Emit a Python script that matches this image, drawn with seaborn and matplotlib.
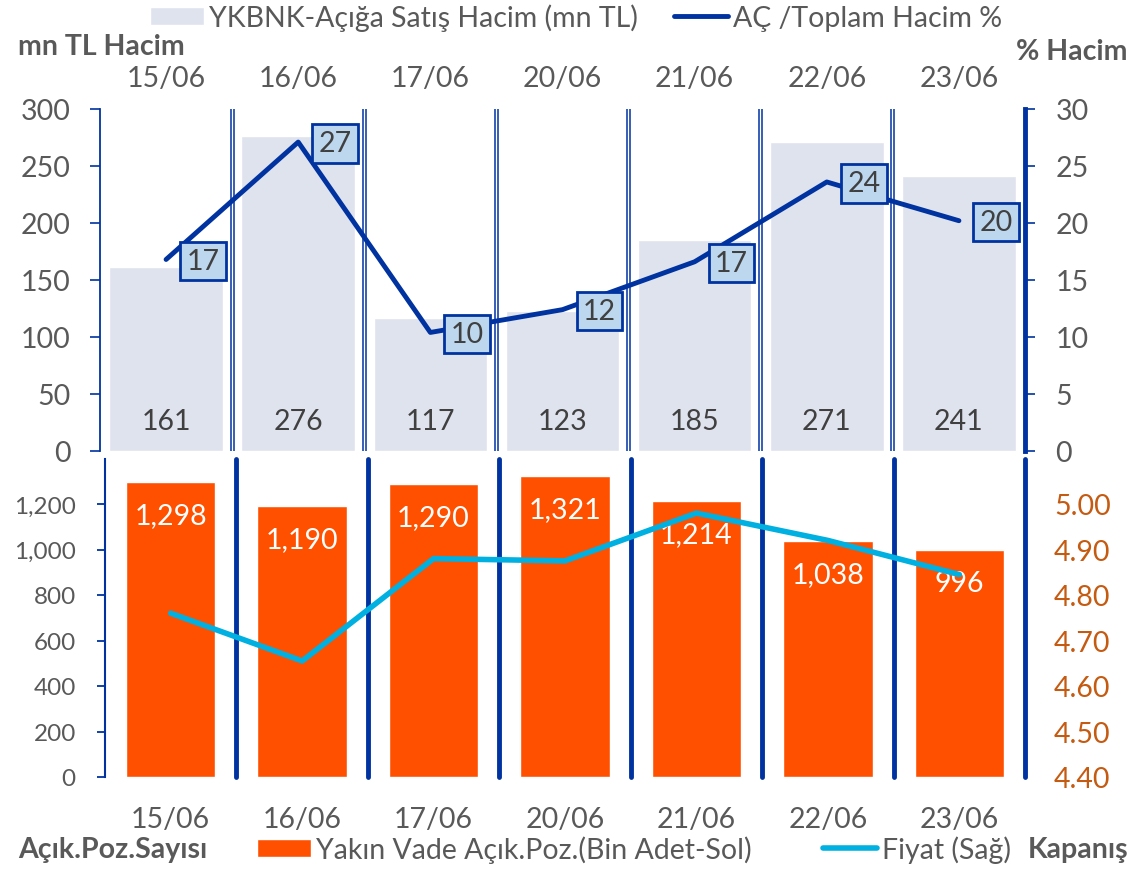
import matplotlib
matplotlib.use('Agg')
import matplotlib.pyplot as plt
import seaborn as sns
from matplotlib.lines import Line2D
from matplotlib.patches import Patch
from matplotlib.ticker import FuncFormatter

# veriler
tarihler = ['15/06', '16/06', '17/06', '20/06', '21/06', '22/06', '23/06']
aciga_satis_hacim = [161, 276, 117, 123, 185, 271, 241]
ac_toplam_oran = [16.8, 27.1, 10.4, 12.4, 16.6, 23.6, 20.2]
acik_poz = [1298, 1190, 1290, 1321, 1214, 1038, 996]
fiyat = [4.76, 4.655, 4.88, 4.875, 4.98, 4.92, 4.845]

LACIVERT = '#0033A0'
GRI = '#595959'
KOYU = '#404040'
FS = 20.5

sns.set_theme(style='white')
plt.rcParams['font.family'] = ['Lato', 'DejaVu Sans']

W, H = 1135, 870
fig = plt.figure(figsize=(W / 100, H / 100), dpi=100)

# --- ust grafik ---
ax1 = fig.add_axes([100 / W, 1 - 452 / H, 925 / W, 342 / H])
ax2 = ax1.twinx()
sns.barplot(x=tarihler, y=aciga_satis_hacim, ax=ax1, color='#DFE3EE', width=0.86, saturation=1)
for i in range(len(tarihler) - 1):
    for d in (-0.012, 0.012):
        ax1.axvline(i + 0.5 + d, color=LACIVERT, lw=1.1)
sns.lineplot(x=range(len(tarihler)), y=ac_toplam_oran, ax=ax2, color=LACIVERT, lw=3.5)

for i, v in enumerate(aciga_satis_hacim):
    ax1.text(i, 26, f'{v}', ha='center', va='center', fontsize=FS, color=KOYU)
for i, v in enumerate(ac_toplam_oran):
    ax2.annotate(f'{v:.0f}', (i, v), xytext=(26.6, -1), textcoords='offset points',
                 ha='center', va='center', fontsize=FS, color=KOYU,
                 bbox=dict(boxstyle='square,pad=0.22', fc='#BDD7EE', ec=LACIVERT, lw=2))

ax1.set_xlim(-0.5, len(tarihler) - 0.5)
ax1.set_ylim(0, 300)
ax2.set_ylim(0, 30)
ax1.set_yticks(range(0, 301, 50))
ax2.set_yticks(range(0, 31, 5))
ax1.xaxis.tick_top()
ax1.tick_params(axis='x', length=0, pad=13, labelsize=FS, labelcolor=GRI)
ax1.tick_params(axis='y', left=True, length=7, width=1.2, color=LACIVERT, pad=14,
                labelsize=FS, labelcolor=GRI)
ax2.tick_params(axis='y', right=True, length=7, width=1.2, color=LACIVERT, pad=15,
                labelsize=FS, labelcolor=GRI)
for ax in (ax1, ax2):
    ax.set_xlabel('')
    ax.set_ylabel('')
    for s in ax.spines.values():
        s.set_visible(False)
ax1.spines['left'].set_visible(True)
ax1.spines['left'].set_color(LACIVERT)
ax1.spines['left'].set_linewidth(1.3)
ax2.spines['right'].set_visible(True)
ax2.spines['right'].set_color(LACIVERT)
ax2.spines['right'].set_linewidth(3.5)

# --- alt grafik ---
ax3 = fig.add_axes([105 / W, 1 - 778 / H, 920 / W, 318.5 / H])
ax4 = ax3.twinx()
sns.barplot(x=tarihler, y=acik_poz, ax=ax3, color='#FF5000', width=0.68, saturation=1)
for i in range(len(tarihler)):
    ax3.axvline(i + 0.5, color=LACIVERT, lw=3.5, clip_on=False)
sns.lineplot(x=range(len(tarihler)), y=fiyat, ax=ax4, color='#00B0E0', lw=4)

for i, v in enumerate(acik_poz):
    ax3.annotate(f'{v:,}', (i, v), xytext=(0, -23.8), textcoords='offset points',
                 ha='center', va='center', fontsize=FS, color='white')

ax3.set_xlim(-0.5, len(tarihler) - 0.5)
ax3.set_ylim(0, 1400)
ax4.set_ylim(4.4, 5.1)
ax3.set_yticks(range(0, 1201, 200))
ax4.set_yticks([4.4, 4.5, 4.6, 4.7, 4.8, 4.9, 5.0])
ax3.yaxis.set_major_formatter(FuncFormatter(lambda x, p: f'{x:,.0f}'))
ax4.yaxis.set_major_formatter(FuncFormatter(lambda x, p: f'{x:.2f}'))
ax3.tick_params(axis='x', length=0, pad=21, labelsize=FS, labelcolor=GRI)
ax3.tick_params(axis='y', left=True, length=6, width=1.3, color=LACIVERT, pad=15,
                labelsize=17.5, labelcolor=GRI)
ax4.tick_params(axis='y', length=0, pad=21, labelsize=FS, labelcolor='#C55A11')
for ax in (ax3, ax4):
    ax.set_xlabel('')
    ax.set_ylabel('')
    for s in ax.spines.values():
        s.set_visible(False)
ax3.spines['left'].set_visible(True)
ax3.spines['left'].set_color(LACIVERT)
ax3.spines['left'].set_linewidth(1.5)

# --- basliklar ve lejantlar ---
fig.text(18 / W, 1 - 47 / H, 'mn TL Hacim', fontsize=FS, fontweight='bold', color=GRI, va='center')
fig.text(1128 / W, 1 - 52 / H, '% Hacim', fontsize=FS, fontweight='bold', color=GRI, va='center', ha='right')
fig.text(18 / W, 1 - 850 / H, 'Açık.Poz.Sayısı', fontsize=FS, fontweight='bold', color=GRI, va='center')
fig.text(1128 / W, 1 - 850 / H, 'Kapanış', fontsize=FS, fontweight='bold', color=GRI, va='center', ha='right')

ust = [Patch(fc='#DFE3EE'), Line2D([], [], color=LACIVERT, lw=3.5)]
fig.legend(ust, ['YKBNK-Açığa Satış Hacim (mn TL)', 'AÇ /Toplam Hacim %'],
           loc='center', bbox_to_anchor=(0.5075, 1 - 18 / H), ncol=2, frameon=False,
           fontsize=FS, labelcolor=GRI, handlelength=1.9, handleheight=0.6,
           handletextpad=0.18, columnspacing=1.25, borderpad=0, borderaxespad=0)
alt = [Patch(fc='#FF5000'), Line2D([], [], color='#00B0E0', lw=4)]
fig.legend(alt, ['Yakın Vade Açık.Poz.(Bin Adet-Sol)', 'Fiyat (Sağ)'],
           loc='center', bbox_to_anchor=(0.5586, 1 - 850 / H), ncol=2, frameon=False,
           fontsize=FS, labelcolor=GRI, handlelength=1.9, handleheight=0.6,
           handletextpad=0.18, columnspacing=2.5, borderpad=0, borderaxespad=0)

fig.savefig('out.png', dpi=100)
